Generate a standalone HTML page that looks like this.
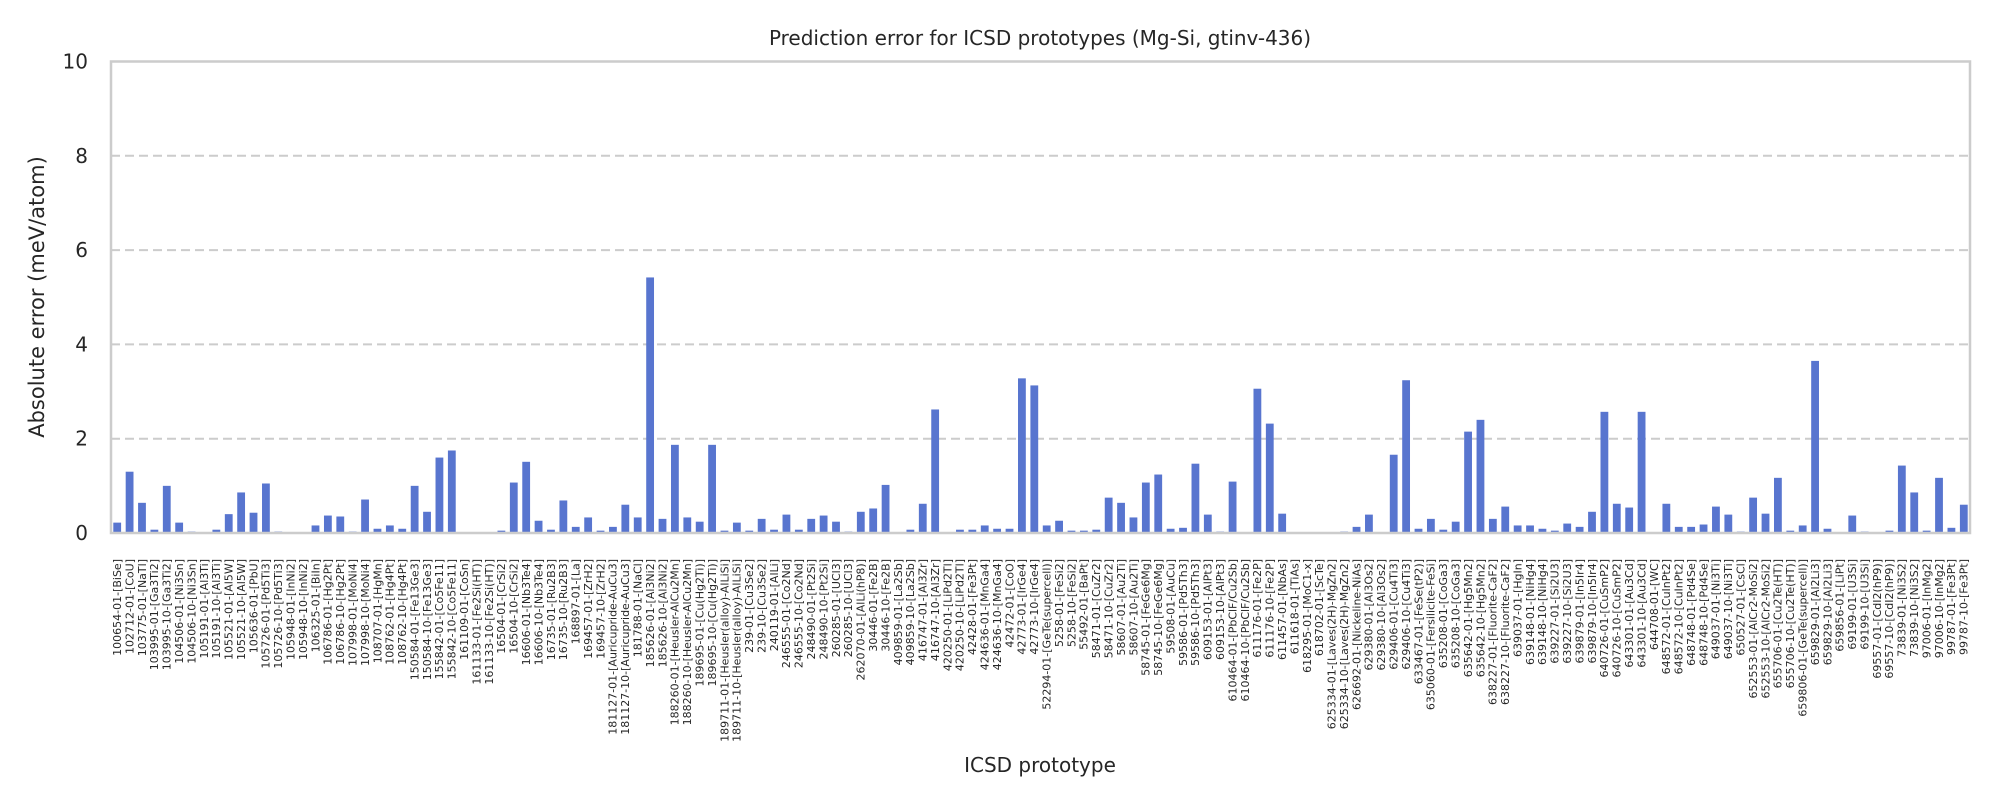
<!DOCTYPE html>
<html><head><meta charset="utf-8"><style>
html,body{margin:0;padding:0;background:#fff;}
svg{display:block;font-family:"DejaVu Sans","Liberation Sans",sans-serif;}
</style></head><body>
<svg id="chart" width="2000" height="800" viewBox="0 0 2000 800" xmlns="http://www.w3.org/2000/svg">
<text x="1040" y="45" font-size="20" text-anchor="middle" fill="#262626">Prediction error for ICSD prototypes (Mg-Si, gtinv-436)</text>
<text transform="translate(44,297) rotate(-90)" font-size="21" text-anchor="middle" fill="#262626">Absolute error (meV/atom)</text>
<text x="1040" y="772" font-size="20" text-anchor="middle" fill="#262626">ICSD prototype</text>
<g id="grid"></g>
<g id="bars"></g>
<g id="yticks"></g>
<g id="xlabels"></g>
<rect x="111" y="61.5" width="1859" height="471.5" fill="none" stroke="#cccccc" stroke-width="2.5"/>
</svg>
<script>
const categories = ["100654-01-[BiSe]","102712-01-[CoU]","103775-01-[NaTl]","103995-01-[Ga3Ti2]","103995-10-[Ga3Ti2]","104506-01-[Ni3Sn]","104506-10-[Ni3Sn]","105191-01-[Al3Ti]","105191-10-[Al3Ti]","105521-01-[Al5W]","105521-10-[Al5W]","105636-01-[PbU]","105726-01-[Pd5Ti3]","105726-10-[Pd5Ti3]","105948-01-[InNi2]","105948-10-[InNi2]","106325-01-[BiIn]","106786-01-[Hg2Pt]","106786-10-[Hg2Pt]","107998-01-[MoNi4]","107998-10-[MoNi4]","108707-01-[HgMn]","108762-01-[Hg4Pt]","108762-10-[Hg4Pt]","150584-01-[Fe13Ge3]","150584-10-[Fe13Ge3]","155842-01-[Co5Fe11]","155842-10-[Co5Fe11]","161109-01-[CoSn]","161133-01-[Fe2Si(HT)]","161133-10-[Fe2Si(HT)]","16504-01-[CrSi2]","16504-10-[CrSi2]","16606-01-[Nb3Te4]","16606-10-[Nb3Te4]","16735-01-[Ru2B3]","16735-10-[Ru2B3]","168897-01-[La]","169457-01-[ZrH2]","169457-10-[ZrH2]","181127-01-[Auricupride-AuCu3]","181127-10-[Auricupride-AuCu3]","181788-01-[NaCl]","185626-01-[Al3Ni2]","185626-10-[Al3Ni2]","188260-01-[Heusler-AlCu2Mn]","188260-10-[Heusler-AlCu2Mn]","189695-01-[Cu(Hg2Ti)]","189695-10-[Cu(Hg2Ti)]","189711-01-[Heusler(alloy)-AlLiSi]","189711-10-[Heusler(alloy)-AlLiSi]","239-01-[Cu3Se2]","239-10-[Cu3Se2]","240119-01-[AlLi]","246555-01-[Co2Nd]","246555-10-[Co2Nd]","248490-01-[Pt2Si]","248490-10-[Pt2Si]","260285-01-[UCl3]","260285-10-[UCl3]","262070-01-[AlLi(hP8)]","30446-01-[Fe2B]","30446-10-[Fe2B]","409859-01-[La2Sb]","409859-10-[La2Sb]","416747-01-[Al3Zr]","416747-10-[Al3Zr]","420250-01-[LiPd2Tl]","420250-10-[LiPd2Tl]","42428-01-[Fe3Pt]","424636-01-[MnGa4]","424636-10-[MnGa4]","42472-01-[CoO]","42773-01-[IrGe4]","42773-10-[IrGe4]","52294-01-[GeTe(supercell)]","5258-01-[FeSi2]","5258-10-[FeSi2]","55492-01-[BaPt]","58471-01-[CuZr2]","58471-10-[CuZr2]","58607-01-[Au2Ti]","58607-10-[Au2Ti]","58745-01-[FeGe6Mg]","58745-10-[FeGe6Mg]","59508-01-[AuCu]","59586-01-[Pd5Th3]","59586-10-[Pd5Th3]","609153-01-[AlPt3]","609153-10-[AlPt3]","610464-01-[PbClF/Cu2Sb]","610464-10-[PbClF/Cu2Sb]","611176-01-[Fe2P]","611176-10-[Fe2P]","611457-01-[NbAs]","611618-01-[TiAs]","618295-01-[MoC1-x]","618702-01-[ScTe]","625334-01-[Laves(2H)-MgZn2]","625334-10-[Laves(2H)-MgZn2]","626692-01-[Nickeline-NiAs]","629380-01-[Al3Os2]","629380-10-[Al3Os2]","629406-01-[Cu4Ti3]","629406-10-[Cu4Ti3]","633467-01-[FeSe(tP2)]","635060-01-[Fersilicite-FeSi]","635208-01-[CoGa3]","635208-10-[CoGa3]","635642-01-[Hg5Mn2]","635642-10-[Hg5Mn2]","638227-01-[Fluorite-CaF2]","638227-10-[Fluorite-CaF2]","639037-01-[HgIn]","639148-01-[NiHg4]","639148-10-[NiHg4]","639227-01-[Si2U3]","639227-10-[Si2U3]","639879-01-[In5Ir4]","639879-10-[In5Ir4]","640726-01-[CuSmP2]","640726-10-[CuSmP2]","643301-01-[Au3Cd]","643301-10-[Au3Cd]","644708-01-[WC]","648572-01-[CuInPt2]","648572-10-[CuInPt2]","648748-01-[Pd4Se]","648748-10-[Pd4Se]","649037-01-[Ni3Ti]","649037-10-[Ni3Ti]","650527-01-[CsCl]","652553-01-[AlCr2-MoSi2]","652553-10-[AlCr2-MoSi2]","655706-01-[Cu2Te(HT)]","655706-10-[Cu2Te(HT)]","659806-01-[GeTe(supercell)]","659829-01-[Al2Li3]","659829-10-[Al2Li3]","659856-01-[LiPt]","69199-01-[U3Si]","69199-10-[U3Si]","69557-01-[CdI2(hP9)]","69557-10-[CdI2(hP9)]","73839-01-[Ni3S2]","73839-10-[Ni3S2]","97006-01-[InMg2]","97006-10-[InMg2]","99787-01-[Fe3Pt]","99787-10-[Fe3Pt]"];
const errors = [0.22,1.30,0.64,0.07,1.00,0.22,0.03,0,0.07,0.40,0.86,0.43,1.05,0.03,0,0,0.16,0.37,0.35,0.03,0.71,0.09,0.16,0.09,1.00,0.45,1.60,1.75,0,0,0,0.05,1.07,1.51,0.26,0.07,0.69,0.13,0.33,0.05,0.13,0.60,0.33,5.42,0.30,1.87,0.33,0.24,1.87,0.05,0.22,0.05,0.30,0.07,0.39,0.07,0.30,0.37,0.24,0.03,0.45,0.52,1.02,0,0.07,0.62,2.62,0,0.07,0.07,0.16,0.09,0.09,3.28,3.13,0.16,0.26,0.05,0.05,0.07,0.75,0.64,0.33,1.07,1.24,0.09,0.11,1.47,0.39,0.03,1.09,0,3.06,2.32,0.41,0,0,0,0,0.03,0.13,0.39,0,1.66,3.24,0.09,0.30,0.07,0.24,2.15,2.40,0.30,0.56,0.16,0.16,0.09,0.05,0.20,0.13,0.45,2.57,0.62,0.54,2.57,0,0.62,0.13,0.13,0.18,0.56,0.39,0.03,0.75,0.41,1.17,0.05,0.16,3.65,0.09,0,0.37,0.03,0,0.05,1.43,0.86,0.05,1.17,0.11,0.60];
const yTickValues = [0,2,4,6,8,10];
const yTickLabels = ["0","2","4","6","8","10"];

const NS="http://www.w3.org/2000/svg";
const X0=111, X1=1970, Y0=533, Ymax=10, Ytop=61.5;
const step=(X1-X0)/categories.length;
function xScale(i){return X0+step*(i+0.5);}
function yScale(v){return Y0-(Y0-Ytop)*v/Ymax;}
const grid=document.getElementById('grid'), bars=document.getElementById('bars'),
      yt=document.getElementById('yticks'), xl=document.getElementById('xlabels');
yTickValues.forEach((v,k)=>{
  const y=yScale(v);
  if(v>0 && v<Ymax){
    const l=document.createElementNS(NS,'line');
    
    
    l.setAttribute('x1',X0);l.setAttribute('x2',X1);l.setAttribute('y1',y);l.setAttribute('y2',y);
    l.setAttribute('stroke','#cccccc');l.setAttribute('stroke-width','2');l.setAttribute('stroke-dasharray','9,5');
    grid.appendChild(l);
  }
  const t=document.createElementNS(NS,'text');
  
  
  t.setAttribute('x',88);t.setAttribute('y',y+7);t.setAttribute('font-size','20');
  t.setAttribute('text-anchor','end');t.setAttribute('fill','#262626');
  t.textContent=yTickLabels[k];
  yt.appendChild(t);
});
const bw=step*0.63;
errors.forEach((v,i)=>{
  const r=document.createElementNS(NS,'rect');
  
  
  const y=yScale(v);
  r.setAttribute('x',xScale(i)-bw/2);r.setAttribute('width',bw);
  r.setAttribute('y',y);r.setAttribute('height',Math.max(0,Y0-y));
  r.setAttribute('fill','#5875cf');
  bars.appendChild(r);
});
categories.forEach((c,i)=>{
  const t=document.createElementNS(NS,'text');
  
  
  const x=xScale(i)+3.8;
  t.setAttribute('transform','translate('+x+',559) rotate(-90)');
  t.setAttribute('font-size','11');t.setAttribute('text-anchor','end');t.setAttribute('fill','#262626');
  t.textContent=c;
  xl.appendChild(t);
});
</script>
</body></html>
